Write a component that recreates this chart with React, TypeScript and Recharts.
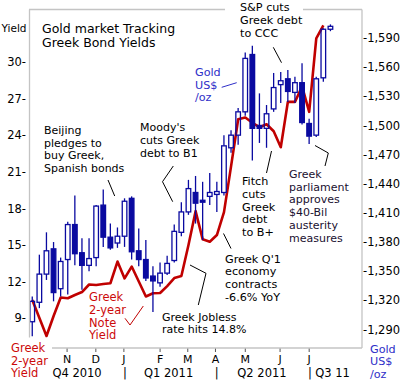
import React from 'react';
import { ComposedChart, Line, Bar, XAxis, YAxis } from 'recharts';

// ---- data (weekly, Oct 2010 - Jul 2011) ----
const weekIndex = [
  0, 1, 2, 3, 4, 5, 6, 7, 8, 9, 10, 11, 12, 13, 14, 15, 16, 17, 18, 19, 20, 21,
  22, 23, 24, 25, 26, 27, 28, 29, 30, 31, 32, 33, 34, 35, 36, 37, 38, 39, 40, 41, 42,
];
const goldOpen = [
  1298, 1318, 1347, 1373, 1332, 1362, 1398, 1369, 1356, 1364, 1418, 1385, 1379, 1386, 1425,
  1371, 1362, 1345, 1338, 1348, 1361, 1390, 1411, 1431, 1423, 1427, 1429, 1431, 1477, 1490,
  1514, 1573, 1500, 1497, 1517, 1542, 1548, 1534, 1544, 1502, 1490, 1549, 1599,
];
const goldHigh = [
  1324, 1367, 1390, 1380, 1364, 1401, 1428, 1384, 1384, 1418, 1434, 1399, 1395, 1425, 1427,
  1394, 1382, 1355, 1359, 1366, 1398, 1421, 1444, 1448, 1442, 1451, 1442, 1490, 1495, 1518,
  1575, 1582, 1533, 1521, 1554, 1555, 1557, 1550, 1564, 1507, 1550, 1600, 1604,
];
const goldLow = [
  1283, 1312, 1341, 1319, 1324, 1326, 1356, 1331, 1350, 1355, 1375, 1372, 1374, 1375, 1362,
  1355, 1340, 1308, 1334, 1346, 1359, 1386, 1408, 1399, 1382, 1418, 1411, 1428, 1472, 1480,
  1510, 1464, 1482, 1477, 1514, 1523, 1524, 1523, 1501, 1481, 1488, 1545, 1597,
];
const goldClose = [
  1319, 1347, 1371, 1328, 1360, 1398, 1368, 1356, 1363, 1417, 1385, 1374, 1386, 1422, 1370,
  1362, 1343, 1340, 1348, 1358, 1391, 1411, 1435, 1420, 1421, 1431, 1432, 1479, 1490, 1514,
  1569, 1497, 1497, 1512, 1539, 1546, 1535, 1544, 1503, 1489, 1548, 1599, 1602,
];
const greekYield: (number | null)[] = [
  10.5, 9.03, 7.55, 9.19, 10.7, 10.64, 10.91, 11.15, 11.77, 11.73, 11.81, 11.87, 13.65, 12.27,
  13.24, 12.01, 10.79, 11.05, 11.07, 11.64, 12.3, 12.46, 15.0, 17.78, 15.47, 15.27, 15.82, 17.7,
  21.47, 25.31, 25.45, 25.02, 24.66, 24.9, 24.33, 23.02, 26.74, 26.73, 28.01, 25.92, 31.94, 33.0,
  null,
];

const monthTickPos = [4.9, 8.95, 12.9, 18.0, 21.9, 25.8, 30.0, 34.9, 39.0];
const monthLabels = ['N', 'D', 'J', 'F', 'M', 'A', 'M', 'J', 'J'];
const quarterTickPos = [6.3, 13.06, 19.2, 25.97, 32.35, 39.1, 42.28];
const quarterLabels = ['Q4 2010', '|', 'Q1 2011', '|', 'Q2 2011', '|', 'Q3 11'];
const yieldTicks = [9, 12, 15, 18, 21, 24, 27, 30];
const goldTicks = [1290, 1320, 1350, 1380, 1410, 1440, 1470, 1500, 1530, 1560, 1590];

// ---- styling ----
const FONT = 'DejaVu Sans';
const BLUE = '#0a0aa0';
const TEXT_BLUE = '#2e2ec8';
const RED = '#c00000';
const TEXT_RED = '#cc0a0a';
const FRAME = '#c4c4c4';

const data = weekIndex.map((i, k) => ({
  i,
  open: goldOpen[k],
  high: goldHigh[k],
  low: goldLow[k],
  close: goldClose[k],
  yld: greekYield[k],
}));

const Candle = (props: any) => {
  const { x, y, width, height, payload } = props;
  if (!payload || x == null || y == null) return null;
  const { open, high, low, close } = payload;
  const top = Math.min(y, y + height);
  const h = Math.abs(height);
  const range = high - low || 1;
  const toY = (v: number) => top + ((high - v) / range) * h;
  const cx = x + width / 2;
  const up = close >= open;
  const yO = toY(open);
  const yC = toY(close);
  const bTop = Math.min(yO, yC);
  const bBot = Math.max(yO, yC);
  const bw = 4.6;
  return (
    <g>
      <line x1={cx} x2={cx} y1={top} y2={bTop} stroke={BLUE} strokeWidth={1.3} />
      <line x1={cx} x2={cx} y1={bBot} y2={top + h} stroke={BLUE} strokeWidth={1.3} />
      <rect
        x={cx - bw / 2}
        y={bTop}
        width={bw}
        height={Math.max(bBot - bTop, 1)}
        fill={up ? 'none' : BLUE}
        stroke={BLUE}
        strokeWidth={1.3}
      />
    </g>
  );
};

type Note = { x: number; y: number; lh: number; lines: string[]; color: string; size: number };
const notes: Note[] = [
  { x: 1.5, y: 31.5, lh: 13, lines: ['Yield'], color: '#000', size: 10.5 },
  { x: 42, y: 33, lh: 14, lines: ['Gold market Tracking', 'Greek Bond Yields'], color: '#000', size: 12.5 },
  { x: 240, y: 11, lh: 12.9, lines: ['S&P cuts', 'Greek debt', 'to CCC'], color: '#000', size: 11.2 },
  { x: 195, y: 76, lh: 12.7, lines: ['Gold', 'US$', '/oz'], color: TEXT_BLUE, size: 11.2 },
  { x: 44, y: 134, lh: 12.7, lines: ['Beijing', 'pledges to', 'buy Greek,', 'Spanish bonds'], color: '#000', size: 11 },
  { x: 140, y: 131, lh: 13, lines: ["Moody's", 'cuts Greek', 'debt to B1'], color: '#000', size: 11 },
  { x: 242, y: 185, lh: 12.75, lines: ['Fitch', 'cuts', 'Greek', 'debt', 'to B+'], color: '#000', size: 11.2 },
  { x: 289, y: 177.7, lh: 12.8, lines: ['Greek', 'parliament', 'approves', '$40-Bil', 'austerity', 'measures'], color: '#1a1030', size: 11 },
  { x: 225, y: 262.7, lh: 12.7, lines: ["Greek Q'1", 'economy', 'contracts', '-6.6% YoY'], color: '#000', size: 11.2 },
  { x: 162, y: 320.5, lh: 12.7, lines: ['Greek Jobless', 'rate hits 14.8%'], color: '#000', size: 11 },
  { x: 89, y: 301, lh: 12.8, lines: ['Greek', '2-year', 'Note', 'Yield'], color: TEXT_RED, size: 11.5 },
  { x: 11, y: 351.7, lh: 12.8, lines: ['Greek', '2-year', 'Yield'], color: TEXT_RED, size: 11.5 },
  { x: 370, y: 352.7, lh: 12.5, lines: ['Gold', 'US$', '/oz'], color: TEXT_BLUE, size: 11.2 },
];

type Conn = { pts: number[][]; color: string };
const connectors: Conn[] = [
  { pts: [[221.7, 87.3], [236.7, 82.7]], color: TEXT_BLUE },
  { pts: [[273.3, 47.3], [281.5, 62.7]], color: '#000' },
  { pts: [[108, 180], [114.7, 196]], color: '#000' },
  { pts: [[173.3, 166], [162.5, 181.7], [172.7, 201.7]], color: '#000' },
  { pts: [[271.5, 151], [266.5, 173]], color: '#000' },
  { pts: [[315, 145.5], [328.3, 153], [325, 166]], color: '#000' },
  { pts: [[223.5, 233.5], [231, 248.5]], color: '#000' },
  { pts: [[190, 265], [206, 273.3], [198.3, 305]], color: '#000' },
  { pts: [[125, 318.3], [130, 325], [143.3, 306]], color: RED },
];

const frame: number[][][] = [
  [[29, 9.5], [225, 9.5]],
  [[303, 9.5], [362, 9.5]],
  [[29.5, 9.5], [29.5, 337.5]],
  [[362, 9.5], [362, 348]],
  [[52, 348], [362, 348]],
];

const fmtGold = (v: number) => `-${Math.floor(v / 1000)},${String(v % 1000).padStart(3, '0')}`;

export default function App() {
  return (
    <div style={{ position: 'absolute', left: 0, top: 0, width: 405, height: 382, background: '#fff', fontFamily: FONT }}>
      <ComposedChart width={405} height={382} data={data} margin={{ top: 10, right: 0, bottom: 0, left: 0 }}>
        <XAxis
          xAxisId="m"
          dataKey="i"
          type="number"
          domain={[-0.465, 46.44]}
          allowDataOverflow
          ticks={monthTickPos}
          interval={0}
          tickFormatter={(v: number) => monthLabels[monthTickPos.indexOf(v)] ?? ''}
          axisLine={false}
          tickLine={{ stroke: '#555' }}
          tickSize={4}
          tickMargin={3}
          height={18}
          tick={{ fontSize: 11, fill: '#000', fontFamily: FONT }}
        />
        <XAxis
          xAxisId="q"
          dataKey="i"
          type="number"
          domain={[-0.465, 46.44]}
          allowDataOverflow
          ticks={quarterTickPos}
          interval={0}
          tickFormatter={(v: number) => quarterLabels[quarterTickPos.indexOf(v)] ?? ''}
          axisLine={false}
          tickLine={false}
          tickSize={0}
          tickMargin={3}
          height={16}
          tick={{ fontSize: 11.5, fill: '#000', fontFamily: FONT }}
        />
        <YAxis
          yAxisId="yield"
          orientation="left"
          type="number"
          domain={[6.566, 34.262]}
          allowDataOverflow
          ticks={yieldTicks}
          interval={0}
          tickFormatter={(v: number) => `${v}-`}
          axisLine={false}
          tickLine={false}
          tickSize={0}
          tickMargin={3}
          width={29}
          tick={{ fontSize: 11.5, fill: '#000', fontFamily: FONT }}
        />
        <YAxis
          yAxisId="gold"
          orientation="right"
          type="number"
          domain={[1270.96, 1618.8]}
          allowDataOverflow
          ticks={goldTicks}
          interval={0}
          tickFormatter={fmtGold}
          axisLine={false}
          tickLine={false}
          tickSize={0}
          tickMargin={1}
          width={43}
          tick={{ fontSize: 11.5, fill: '#000', fontFamily: FONT }}
        />
        <Line
          xAxisId="m"
          yAxisId="yield"
          dataKey="yld"
          type="linear"
          stroke={RED}
          strokeWidth={2.6}
          strokeLinejoin="round"
          dot={false}
          activeDot={false}
          isAnimationActive={false}
          {...({ zIndex: 150 } as any)}
        />
        <Bar
          xAxisId="m"
          yAxisId="gold"
          dataKey={(d: any) => [d.low, d.high]}
          barSize={7}
          shape={Candle}
          isAnimationActive={false}
          {...({ zIndex: 450 } as any)}
        />
      </ComposedChart>
      <svg
        width={405}
        height={382}
        style={{ position: 'absolute', left: 0, top: 0, pointerEvents: 'none' }}
        fontFamily={FONT}
      >
        {frame.map((seg, k) => (
          <line key={`f${k}`} x1={seg[0][0]} y1={seg[0][1]} x2={seg[1][0]} y2={seg[1][1]} stroke={FRAME} strokeWidth={1.3} />
        ))}
        {connectors.map((c, k) => (
          <polyline key={`c${k}`} points={c.pts.map((p) => p.join(',')).join(' ')} fill="none" stroke={c.color} strokeWidth={1} />
        ))}
        {notes.map((n, k) => (
          <text key={`n${k}`} x={n.x} y={n.y} fill={n.color} fontSize={n.size}>
            {n.lines.map((ln, j) => (
              <tspan key={j} x={n.x} y={n.y + j * n.lh}>
                {ln}
              </tspan>
            ))}
          </text>
        ))}
      </svg>
    </div>
  );
}
